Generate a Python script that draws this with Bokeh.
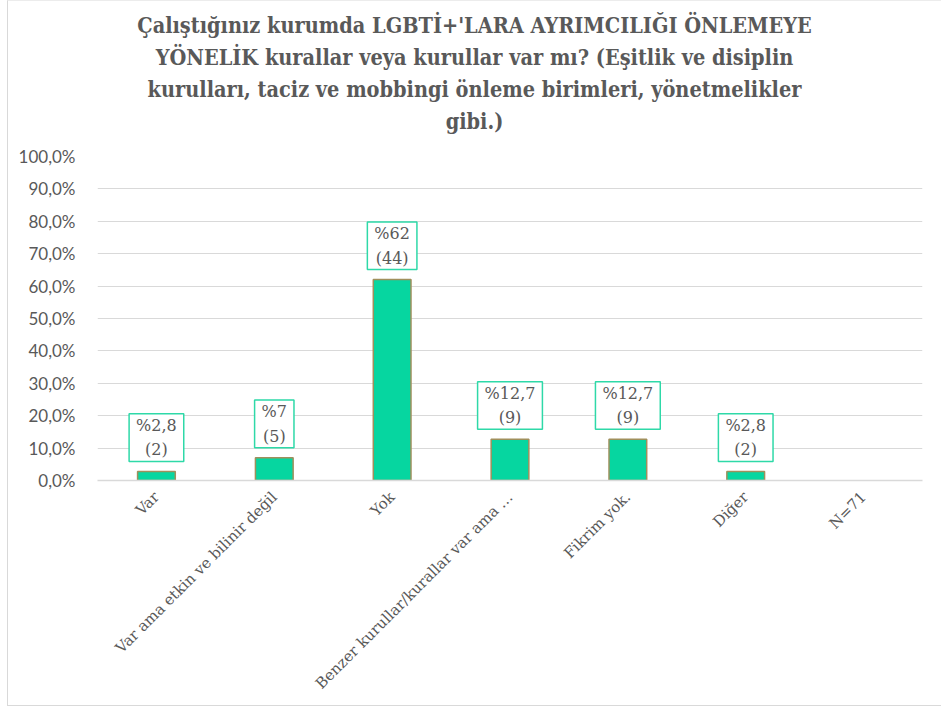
import math
from bokeh.plotting import figure
from bokeh.layouts import column
from bokeh.models import (FactorRange, Range1d, FixedTicker, CustomJSTickFormatter,
                          Div, ColumnDataSource)
from bokeh.core.properties import value
from bokeh.embed import file_html
from bokeh.resources import INLINE

# ---- data ----
categories = ["Var", "Var ama etkin ve bilinir değil", "Yok",
              "Benzer kurullar/kurallar var ama …", "Fikrim yok.", "Diğer", "N=71"]
percentages = [2.8, 7.0, 62.0, 12.7, 12.7, 2.8, 0.0]
counts = [2, 5, 44, 9, 9, 2, None]
pct_labels = ["%2,8", "%7", "%62", "%12,7", "%12,7", "%2,8", None]
y_ticks = [0, 10, 20, 30, 40, 50, 60, 70, 80, 90, 100]
title_lines = ["Çalıştığınız kurumda LGBTİ+'LARA AYRIMCILIĞI ÖNLEMEYE",
               "YÖNELİK kurallar veya kurullar var mı? (Eşitlik ve disiplin",
               "kurulları, taciz ve mobbingi önleme birimleri, yönetmelikler",
               "gibi.)"]

TEXT = "#595959"
GRID = "#d9d9d9"
BAR = "#06D6A0"
BAR_LINE = "#A08F5C"
CALLOUT = "#2ED9A8"

W = 933
TITLE_H = 143
PLOT_H = 561

bar_cats = [c for c, n in zip(categories, counts) if n is not None]
bar_vals = [v for v, n in zip(percentages, counts) if n is not None]
bar_text = [f"{pl}\n({n})" for pl, n in zip(pct_labels, counts) if n is not None]
src = ColumnDataSource(dict(cat=bar_cats, pct=bar_vals, lbl=bar_text))

title_div = Div(
    text=("<div style=\"font-family:'DejaVu Serif Condensed','DejaVu Serif',serif;"
          "font-weight:bold;font-size:21.5px;line-height:32px;color:%s;"
          "text-align:center;white-space:nowrap;padding-top:9px;width:%dpx;\">%s</div>")
    % (TEXT, W, "<br>".join(title_lines)),
    width=W, height=TITLE_H, margin=0)

p = figure(width=W, height=PLOT_H, output_backend="svg", toolbar_location=None,
           x_range=FactorRange(*categories, range_padding=0),
           y_range=Range1d(0, 100),
           min_border_left=89, min_border_right=19, min_border_top=12,
           min_border_bottom=225, margin=0)
p.title.visible = False

p.vbar(x="cat", top="pct", width=0.32, source=src, fill_color=BAR,
       line_color=BAR_LINE, line_width=1.5)

p.text(x="cat", y="pct", text="lbl", source=src, y_offset=-10,
       text_align="center", text_baseline="bottom",
       text_font=value("DejaVu Serif"), text_font_size="16px",
       text_color=TEXT, text_line_height=1.3,
       background_fill_color="white",
       border_line_color=CALLOUT, border_line_width=1.5,
       padding=(7, 2))

p.outline_line_color = None
p.xgrid.grid_line_color = None
p.ygrid.grid_line_color = GRID
p.ygrid.grid_line_width = 1

p.yaxis.ticker = FixedTicker(ticks=y_ticks)
p.yaxis.formatter = CustomJSTickFormatter(code="return tick.toFixed(1).replace('.', ',') + '%';")
p.yaxis.axis_line_color = None
p.yaxis.major_tick_line_color = None
p.yaxis.minor_tick_line_color = None
p.yaxis.major_label_text_font = "Lato"
p.yaxis.major_label_text_font_size = "17px"
p.yaxis.major_label_text_color = TEXT
p.yaxis.major_label_standoff = 16

p.xaxis.axis_line_color = GRID
p.xaxis.axis_line_width = 1.5
p.xaxis.major_tick_line_color = None
p.xaxis.minor_tick_line_color = None
p.xaxis.major_label_orientation = math.pi / 4
p.xaxis.major_label_text_font = "DejaVu Serif"
p.xaxis.major_label_text_font_size = "15px"
p.xaxis.major_label_text_color = TEXT
p.xaxis.major_label_standoff = 8

layout = column(title_div, p, spacing=0,
                styles={"margin-left": "7px", "border-left": "1px solid #d9d9d9",
                        "border-top": "1px solid #ececec",
                        "border-bottom": "1px solid #d9d9d9"})

open("out.html", "w").write(file_html(layout, INLINE))
